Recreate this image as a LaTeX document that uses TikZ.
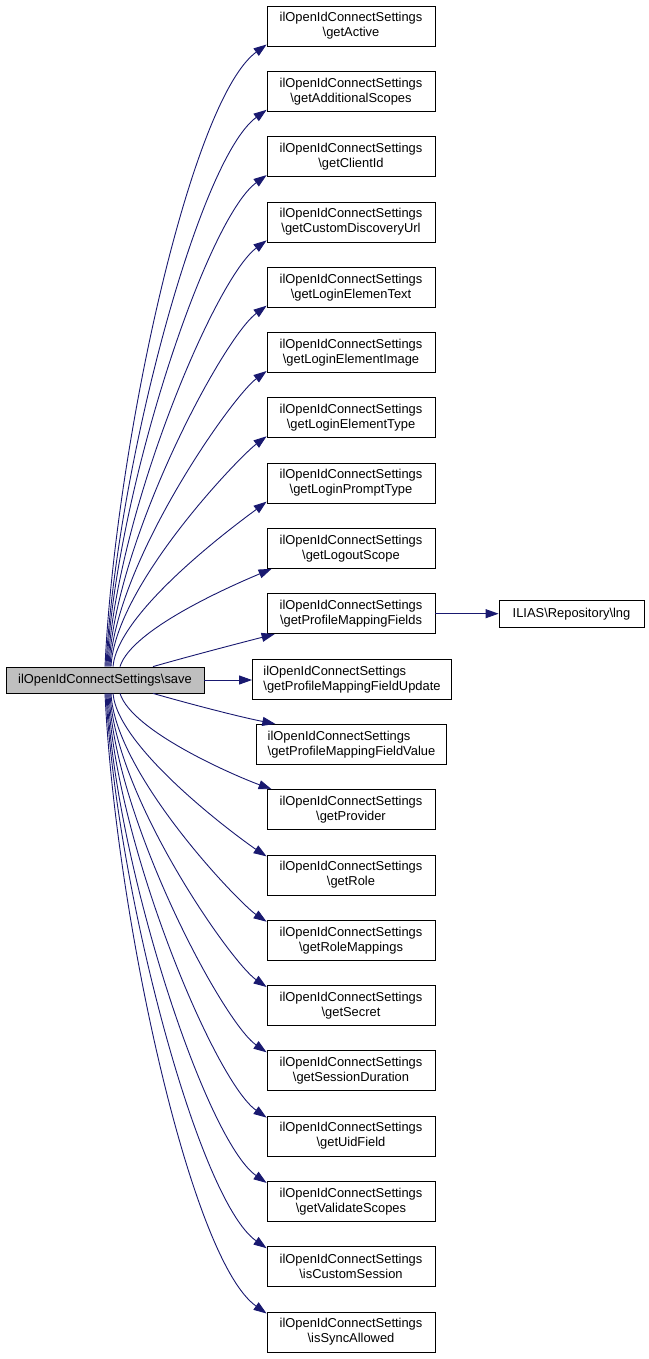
\documentclass[tikz,border=0pt]{standalone}
\usepackage{fontspec}
\setmainfont{Liberation Sans}
\usetikzlibrary{arrows.meta}
\definecolor{edgeblue}{HTML}{191970}
\begin{document}
\begin{tikzpicture}[x=1pt,y=-1pt,
  box/.style={draw=black, line width=0.8pt, fill=white, align=center, inner xsep=5pt, inner ysep=2pt,
    minimum width=168pt, minimum height=40pt, font=\fontsize{12.9}{15}\selectfont},
  widebox/.style={box, align=left, inner xsep=11pt},
  mainbox/.style={draw=black, line width=0.8pt, fill={rgb,255:red,191;green,191;blue,191}, inner xsep=4pt,
    minimum width=198pt, minimum height=26pt, font=\fontsize{12.9}{15}\selectfont},
  lngbox/.style={draw=black, line width=0.8pt, fill=white, inner xsep=4pt,
    minimum width=145pt, minimum height=27pt, font=\fontsize{12.9}{15}\selectfont},
  edge/.style={draw=edgeblue, line width=0.9pt, -{Triangle[length=13pt,width=9pt]}}]
\useasboundingbox (0,0) rectangle (648,1359);

\node[mainbox] (save) at (105,680) {ilOpenIdConnectSettings\textbackslash save};

\node[box] (n0) at (351,26.0) {ilOpenIdConnectSettings\\\textbackslash getActive};
\node[box] (n1) at (351,91.3) {ilOpenIdConnectSettings\\\textbackslash getAdditionalScopes};
\node[box] (n2) at (351,156.6) {ilOpenIdConnectSettings\\\textbackslash getClientId};
\node[box] (n3) at (351,221.9) {ilOpenIdConnectSettings\\\textbackslash getCustomDiscoveryUrl};
\node[box] (n4) at (351,287.2) {ilOpenIdConnectSettings\\\textbackslash getLoginElemenText};
\node[box] (n5) at (351,352.5) {ilOpenIdConnectSettings\\\textbackslash getLoginElementImage};
\node[box] (n6) at (351,417.8) {ilOpenIdConnectSettings\\\textbackslash getLoginElementType};
\node[box] (n7) at (351,483.1) {ilOpenIdConnectSettings\\\textbackslash getLoginPromptType};
\node[box] (n8) at (351,548.4) {ilOpenIdConnectSettings\\\textbackslash getLogoutScope};
\node[box] (n9) at (351,613.7) {ilOpenIdConnectSettings\\\textbackslash getProfileMappingFields};
\node[widebox] (n10) at (352,679.5) {ilOpenIdConnectSettings\\\textbackslash getProfileMappingFieldUpdate};
\node[widebox] (n11) at (351.5,744.3) {ilOpenIdConnectSettings\\\textbackslash getProfileMappingFieldValue};
\node[box] (n12) at (351,809.6) {ilOpenIdConnectSettings\\\textbackslash getProvider};
\node[box] (n13) at (351,874.9) {ilOpenIdConnectSettings\\\textbackslash getRole};
\node[box] (n14) at (351,940.2) {ilOpenIdConnectSettings\\\textbackslash getRoleMappings};
\node[box] (n15) at (351,1005.5) {ilOpenIdConnectSettings\\\textbackslash getSecret};
\node[box] (n16) at (351,1070.8) {ilOpenIdConnectSettings\\\textbackslash getSessionDuration};
\node[box] (n17) at (351,1136.1) {ilOpenIdConnectSettings\\\textbackslash getUidField};
\node[box] (n18) at (351,1201.4) {ilOpenIdConnectSettings\\\textbackslash getValidateScopes};
\node[box] (n19) at (351,1266.7) {ilOpenIdConnectSettings\\\textbackslash isCustomSession};
\node[box] (n20) at (351,1332.0) {ilOpenIdConnectSettings\\\textbackslash isSyncAllowed};

\node[lngbox] (lng) at (571.5,613.7) {ILIAS\textbackslash Repository\textbackslash lng};

% upper edges
\draw[edge] ([xshift=0pt]save.north) .. controls (115,449) and (190,100.5) .. ([yshift=-18.5pt]n0.west);
\draw[edge] ([xshift=1pt]save.north) .. controls (116,472) and (198,160) .. ([yshift=-18.5pt]n1.west);
\draw[edge] ([xshift=2pt]save.north) .. controls (115,495) and (206,219.4) .. ([yshift=-18.5pt]n2.west);
\draw[edge] ([xshift=3pt]save.north) .. controls (115,517.7) and (214.6,278.8) .. ([yshift=-18.5pt]n3.west);
\draw[edge] ([xshift=4pt]save.north) .. controls (115,540.5) and (222.8,338.2) .. ([yshift=-18.5pt]n4.west);
\draw[edge] ([xshift=5pt]save.north) .. controls (115,563.4) and (231,397.6) .. ([yshift=-18.5pt]n5.west);
\draw[edge] ([xshift=6pt]save.north) .. controls (115,586) and (239,457) .. ([yshift=-18.5pt]n6.west);
\draw[edge] ([xshift=8pt]save.north) .. controls (118,609) and (247,516.5) .. ([yshift=-18.5pt]n7.west);
\draw[edge] ([xshift=15pt]save.north) .. controls (132,628) and (238,583) .. ([xshift=5pt]n8.south west);
\draw[edge] ([xshift=48pt]save.north) .. controls (190,656) and (240,643) .. ([xshift=8pt]n9.south west);

% middle
\draw[edge] (save.east) -- (save.east -| n10.west);
\draw[edge] (n9.east) -- (lng.west);

% lower edges
\draw[edge] ([xshift=48pt]save.south) .. controls (190,704) and (240,717) .. ([xshift=19pt]n11.north west);
\draw[edge] ([xshift=15pt]save.south) .. controls (132,732) and (238,777) .. ([xshift=5pt]n12.north west);
\draw[edge] ([xshift=8pt]save.south) .. controls (118,751) and (247,843.5) .. ([yshift=18.5pt]n13.west);
\draw[edge] ([xshift=6pt]save.south) .. controls (115,774) and (239,903) .. ([yshift=18.5pt]n14.west);
\draw[edge] ([xshift=5pt]save.south) .. controls (115,796.6) and (231,962.4) .. ([yshift=18.5pt]n15.west);
\draw[edge] ([xshift=4pt]save.south) .. controls (115,819.5) and (222.8,1021.8) .. ([yshift=18.5pt]n16.west);
\draw[edge] ([xshift=3pt]save.south) .. controls (115,842.3) and (214.6,1081.2) .. ([yshift=18.5pt]n17.west);
\draw[edge] ([xshift=2pt]save.south) .. controls (115,865) and (206,1140.6) .. ([yshift=18.5pt]n18.west);
\draw[edge] ([xshift=1pt]save.south) .. controls (116,888) and (198,1200) .. ([yshift=18.5pt]n19.west);
\draw[edge] ([xshift=0pt]save.south) .. controls (115,910.9) and (190,1259.5) .. ([yshift=18.5pt]n20.west);
\end{tikzpicture}
\end{document}
